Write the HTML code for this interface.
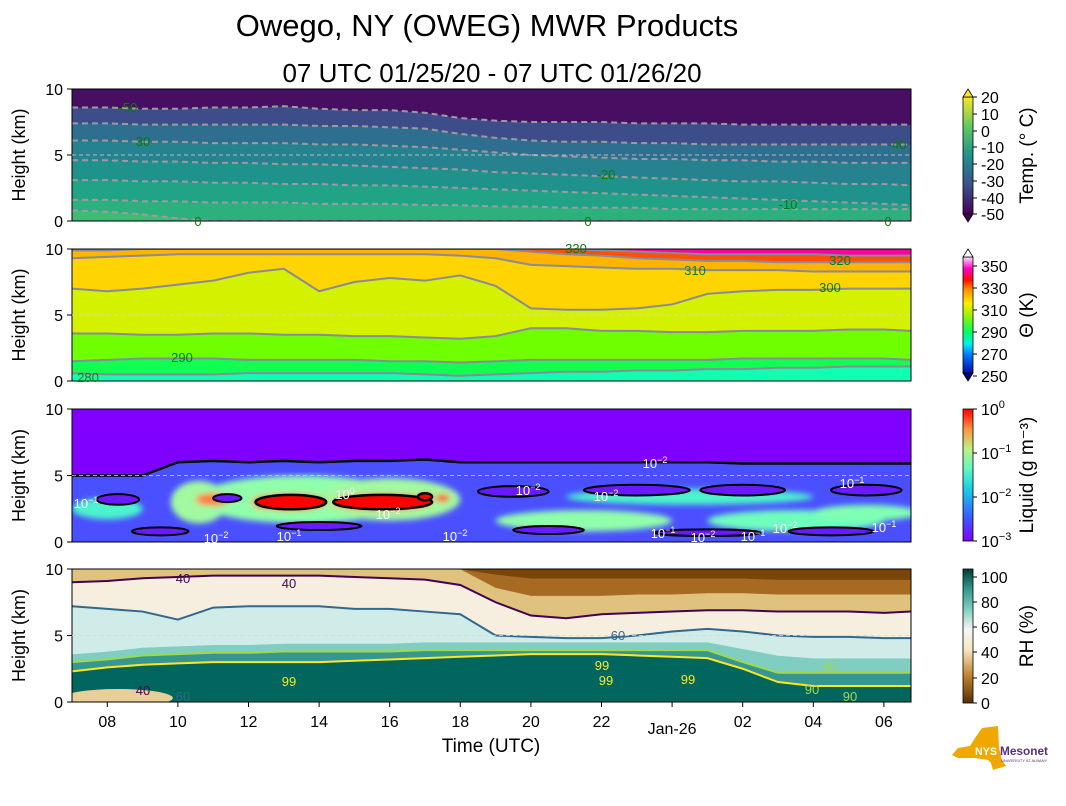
<!DOCTYPE html>
<html><head><meta charset="utf-8"><style>
body{margin:0;background:#fff;}
svg{display:block;font-family:"Liberation Sans","DejaVu Sans",sans-serif;}
</style></head><body>
<svg id="c" width="1066" height="806" viewBox="0 0 1066 806">
<defs>
<filter id="blur" x="-50%" y="-50%" width="200%" height="200%"><feGaussianBlur stdDeviation="3"/></filter>
<linearGradient id="gTemp" x1="0" y1="1" x2="0" y2="0">
<stop offset="0" stop-color="#440154"/><stop offset="0.25" stop-color="#3b528b"/><stop offset="0.5" stop-color="#21918c"/><stop offset="0.75" stop-color="#5ec962"/><stop offset="1" stop-color="#fde725"/></linearGradient>
<linearGradient id="gTheta" x1="0" y1="1" x2="0" y2="0">
<stop offset="0" stop-color="#0010a0"/><stop offset="0.15" stop-color="#0070ff"/><stop offset="0.25" stop-color="#00f0f0"/><stop offset="0.35" stop-color="#00ff60"/><stop offset="0.5" stop-color="#a0f000"/><stop offset="0.6" stop-color="#ffee00"/><stop offset="0.72" stop-color="#ff9000"/><stop offset="0.8" stop-color="#ff1000"/><stop offset="0.9" stop-color="#ff00c0"/><stop offset="1" stop-color="#ffe0ff"/></linearGradient>
<linearGradient id="gLiq" x1="0" y1="1" x2="0" y2="0">
<stop offset="0" stop-color="#7f00ff"/><stop offset="0.2" stop-color="#3366ff"/><stop offset="0.4" stop-color="#1ad0e8"/><stop offset="0.55" stop-color="#66f8c0"/><stop offset="0.7" stop-color="#c0f080"/><stop offset="0.85" stop-color="#ff9040"/><stop offset="1" stop-color="#ff0000"/></linearGradient>
<linearGradient id="gRH" x1="0" y1="1" x2="0" y2="0">
<stop offset="0" stop-color="#543005"/><stop offset="0.2" stop-color="#bf812d"/><stop offset="0.4" stop-color="#f6e8c3"/><stop offset="0.55" stop-color="#f5f5f5"/><stop offset="0.7" stop-color="#80cdc1"/><stop offset="0.85" stop-color="#35978f"/><stop offset="1" stop-color="#003c30"/></linearGradient>
</defs>
<g id="root"></g>
</svg>
<script>
// ===== data =====
const hours = [7,8,9,10,11,12,13,14,15,16,17,18,19,20,21,22,23,24,25,26,27,28,29,30,31];
const xTickHours = [8,10,12,14,16,18,20,22,24,26,28,30];
const xTickLabels = ["08","10","12","14","16","18","20","22","Jan-26","02","04","06"];
const yTicks = [0,5,10];

const tempC0 = [0.8,0.7,0.5,0.2,0,0,0,0,0,0,0,0,0,0,0,0,0,0,0,0,0,0,0,0,0];
const tempC1 = [1.6,1.6,1.5,1.5,1.4,1.4,1.4,1.3,1.3,1.3,1.2,1.2,1.1,1.1,1.0,1.0,1.0,0.9,0.9,0.9,0.9,0.9,0.9,0.9,0.9];
const tempC2 = [3.1,3.1,3.0,3.0,2.9,2.9,2.8,2.8,2.7,2.7,2.6,2.5,2.4,2.3,2.2,2.1,2.0,1.9,1.8,1.7,1.6,1.5,1.4,1.3,1.2];
const tempC3 = [4.6,4.6,4.5,4.5,4.4,4.4,4.3,4.3,4.2,4.1,4.0,3.9,3.7,3.6,3.5,3.4,3.3,3.2,3.1,3.0,3.0,2.9,2.8,2.8,2.7];
const tempC4 = [6.1,6.1,6.0,6.0,5.9,5.9,5.9,5.8,5.8,5.7,5.6,5.4,5.2,5.0,4.9,4.8,4.7,4.7,4.6,4.6,4.5,4.5,4.4,4.4,4.4];
const tempC5 = [7.4,7.4,7.3,7.3,7.3,7.3,7.3,7.2,7.2,7.1,7.0,6.6,6.3,6.1,6.0,6.0,5.9,5.9,5.8,5.8,5.8,5.8,5.8,5.8,5.8];
const tempC6 = [8.6,8.6,8.5,8.5,8.6,8.6,8.7,8.5,8.4,8.4,8.2,7.8,7.6,7.5,7.5,7.5,7.4,7.4,7.4,7.3,7.3,7.3,7.3,7.3,7.3];
const tempFills = ["#3fbc73","#2cb17e","#21a386","#1f938b","#26828e","#2e6e8e","#3d4d8a","#470e61"];

const thC280 = [0.6,0.5,0.5,0.5,0.5,0.6,0.6,0.6,0.6,0.6,0.5,0.4,0.5,0.6,0.7,0.7,0.8,0.8,0.9,0.9,1.0,1.0,1.1,1.1,1.1];
const thC290 = [1.5,1.6,1.7,1.7,1.7,1.6,1.6,1.6,1.6,1.5,1.5,1.4,1.5,1.6,1.6,1.6,1.6,1.6,1.6,1.7,1.7,1.7,1.7,1.7,1.6];
const thC295 = [3.6,3.6,3.5,3.5,3.6,3.6,3.5,3.5,3.4,3.4,3.3,3.2,3.4,4.0,4.0,3.8,3.8,3.7,3.7,3.8,3.8,3.8,3.9,3.9,3.8];
const thC300 = [7.0,6.8,7.0,7.3,7.6,8.2,8.5,6.8,7.5,7.8,7.6,8.0,7.2,5.5,5.4,5.4,5.5,5.8,6.6,6.8,6.9,6.9,7.0,7.0,7.0];
const thC310 = [9.3,9.4,9.5,9.6,9.6,9.6,9.6,9.6,9.6,9.6,9.6,9.5,9.3,8.8,8.7,8.6,8.5,8.5,8.4,8.4,8.4,8.3,8.3,8.3,8.3];
const thC320 = [9.9,9.9,10,10,10,10,10,10,10,10,10,10,10,9.8,9.6,9.5,9.3,9.2,9.1,9.1,9.0,9.0,9.0,9.0,9.0];
const thC330 = [10.5,10.5,10.5,10.5,10.5,10.5,10.5,10.5,10.5,10.5,10.5,10.5,10.4,10.2,10.0,9.9,9.8,9.7,9.6,9.6,9.6,9.6,9.5,9.5,9.5];
const thFills = ["#10ffb0","#10ff50","#70ff00","#d4f200","#ffd400","#ffb400","#ff5000","#ff00a0"];

const rhC99 = [2.3,2.6,2.8,2.9,3.0,3.0,3.0,3.0,3.1,3.2,3.3,3.4,3.5,3.6,3.6,3.6,3.5,3.4,3.3,2.5,1.5,1.2,1.2,1.2,1.2];
const rhC90 = [3.0,3.2,3.5,3.6,3.7,3.7,3.8,3.8,3.8,3.8,3.9,3.9,3.9,3.9,3.9,3.9,3.9,3.9,3.9,3.0,2.2,2.2,2.2,2.2,2.2];
const rhC80 = [3.6,3.8,4.1,4.2,4.3,4.3,4.4,4.4,4.4,4.4,4.5,4.5,4.5,4.5,4.5,4.5,4.5,4.5,4.5,4.0,3.5,3.3,3.3,3.3,3.3];
const rhC60 = [7.2,7.0,6.8,6.2,7.1,7.2,7.2,7.2,7.0,7.0,6.8,6.6,5.0,4.9,4.8,4.8,5.0,5.3,5.5,5.3,5.0,4.9,4.9,4.8,4.8];
const rhC40 = [9.0,9.1,9.3,9.4,9.5,9.5,9.5,9.5,9.4,9.3,9.2,8.8,7.5,6.5,6.3,6.6,6.7,6.8,6.9,6.9,6.8,6.8,6.8,6.7,6.8];
const rhC30 = [10.5,10.5,10.5,10.5,10.5,10.5,10.5,10.5,10.5,10.4,10.3,10.0,8.6,8.0,8.0,8.0,8.1,8.1,8.2,8.2,8.1,8.1,8.1,8.1,8.1];
const rhC20 = [11,11,11,11,11,11,11,11,11,11,11,11,9.6,9.3,9.3,9.3,9.3,9.3,9.3,9.3,9.2,9.2,9.2,9.2,9.2];
const rhFills = ["#01665e","#35978f","#80cdc1","#d0ece8","#f6efe0","#dfc27d","#a66a23","#7a4508"];

const liqTop = [5.0,5.0,5.0,6.0,6.1,6.0,6.1,6.0,6.1,6.1,6.2,6.0,6.0,6.0,6.0,6.0,6.0,6.0,6.0,5.9,5.9,5.9,5.9,5.9,5.9];
const blobHour = [8.0,10.6,13.5,16.0,21.5,24.5,27.5,29.5,11.0,12.5,13.2,15.8,17.0,17.5];
const blobZ    = [2.5,3.0,3.2,3.2,1.6,3.4,1.6,2.2,3.2,3.0,3.0,3.0,3.4,3.3];
const blobHW   = [1.0,0.8,3.0,2.0,2.5,3.5,2.5,1.5,0.5,0.4,1.0,1.4,0.2,0.2];
const blobHD   = [0.8,1.6,1.8,1.6,0.8,0.6,0.8,0.6,0.5,0.5,0.6,0.6,0.3,0.3];
const blobLog  = [-1.8,-1.3,-1.4,-1.3,-1.4,-1.8,-1.6,-1.5,-0.5,-0.5,0,0,0,-0.3];
// purple "holes" (below 10^-2) inside the cloud layer, outlined black
const holeHour = [8.3,11.4,19.5,23.0,26.0,29.5,9.5,14.0,20.5,25.0,28.5];
const holeZ    = [3.2,3.3,3.8,3.9,3.9,3.9,0.8,1.2,0.9,0.7,0.8];
const holeHW   = [0.6,0.4,1.0,1.5,1.2,1.0,0.8,1.2,1.0,1.5,1.2];
const holeHD   = [0.4,0.3,0.4,0.4,0.4,0.4,0.3,0.3,0.3,0.25,0.3];

// ===== helpers =====
const NS="http://www.w3.org/2000/svg";
const root=document.getElementById('root');
function mk(tag,attrs,parent){const e=document.createElementNS(NS,tag);for(const k in attrs)e.setAttribute(k,attrs[k]);(parent||root).appendChild(e);return e;}
const X0=72,X1=911;
function xs(h){return 107.3+(h-8)*35.3;}
const panels=[{top:89,bot:221},{top:249,bot:381},{top:409,bot:542},{top:569,bot:702}];
function ys(p,km){const P=panels[p];return P.bot-(km/10)*(P.bot-P.top);}
function clampKm(v){return Math.max(0,Math.min(10,v));}
function curvePts(p,arr){return hours.map((h,i)=>[Math.max(X0,Math.min(X1,xs(h))),ys(p,clampKm(arr[i]))]);}
function fillBands(p,curves,fills,g){
  const n=curves.length;
  for(let k=0;k<=n;k++){
    const lower=k===0?hours.map(()=>0):curves[k-1];
    const upper=k===n?hours.map(()=>10):curves[k];
    const lp=curvePts(p,lower),up=curvePts(p,upper).reverse();
    const d="M"+lp.map(q=>q.join(",")).join("L")+"L"+up.map(q=>q.join(",")).join("L")+"Z";
    const e=mk('path',{d:d,fill:fills[k],stroke:fills[k],'stroke-width':0.5},g);
    
    
  }
}
function line(p,arr,color,w,dash,g,name){
  const pts=curvePts(p,arr);
  const e=mk('path',{d:"M"+pts.map(q=>q.join(",")).join("L"),fill:"none",stroke:color,'stroke-width':w,'stroke-dasharray':dash||"none"},g);
  
  
}
function text(x,y,s,attrs,name){const e=mk('text',Object.assign({x:x,y:y},attrs));e.textContent=s;
  
  return e;}
function clipFor(p){const cp=mk('clipPath',{id:'cp'+p},document.querySelector('defs'));mk('rect',{x:X0,y:panels[p].top,width:X1-X0,height:panels[p].bot-panels[p].top},cp);return 'url(#cp'+p+')';}
function rainbow(l){const x=Math.max(0,Math.min(1,(l+3)/3));const r=Math.min(1,Math.abs(2*x-0.5)),g=Math.sin(Math.PI*x),b=Math.cos(Math.PI*x/2);return `rgb(${Math.round(r*255)},${Math.round(g*255)},${Math.round(b*255)})`;}

// ===== panel 1: temperature =====
let g=mk('g',{'clip-path':clipFor(0)});


const tC=[tempC0,tempC1,tempC2,tempC3,tempC4,tempC5,tempC6];
fillBands(0,tC,tempFills,g);
tC.forEach(c=>line(0,c,"#a09aa0",2,"6,4",g,'temp-contour'));
// ===== panel 2: theta =====
g=mk('g',{'clip-path':clipFor(1)});


const thC=[thC280,thC290,thC295,thC300,thC310,thC320,thC330];
fillBands(1,thC,thFills,g);
thC.forEach(c=>line(1,c,"#8a8a9a",2,null,g,'theta-contour'));
// ===== panel 3: liquid =====
g=mk('g',{'clip-path':clipFor(2)});


let bg=mk('rect',{x:X0,y:panels[2].top,width:X1-X0,height:133,fill:"#7f00ff"},g);


fillBands(2,[liqTop],["#4a50ff","#7f00ff"],g);
const bl=mk('g',{filter:'url(#blur)'},g);
blobHour.forEach((h,i)=>{
  const e=mk('ellipse',{cx:xs(h),cy:ys(2,blobZ[i]),rx:blobHW[i]*35.3,ry:blobHD[i]*13.3,fill:rainbow(blobLog[i])},bl);
  
  
});
holeHour.forEach((h,i)=>{
  const e=mk('ellipse',{cx:xs(h),cy:ys(2,holeZ[i]),rx:holeHW[i]*35.3,ry:holeHD[i]*13.3,fill:"#6a1aff",stroke:"#000",'stroke-width':2},g);
  
  
});
blobHour.forEach((h,i)=>{ if(blobLog[i]>=0){
  const e=mk('ellipse',{cx:xs(h),cy:ys(2,blobZ[i]),rx:blobHW[i]*35.3,ry:blobHD[i]*13.3*0.9,fill:"#ff0000",stroke:"#000",'stroke-width':2.5},g);
  
  }});
line(2,liqTop,"#000",2.5,null,g,'liquid-contour-1e-2');
// ===== panel 4: RH =====
g=mk('g',{'clip-path':clipFor(3)});


const rhC=[rhC99,rhC90,rhC80,rhC60,rhC40,rhC30,rhC20];
fillBands(3,rhC,rhFills,g);
let dry=mk('ellipse',{cx:xs(8.3),cy:ys(3,0.3),rx:55,ry:9,fill:"#e8cf98"},g);


line(3,rhC99,"#fde725",2,null,g,'rh-contour-99');
line(3,rhC90,"#9fd94a",2,null,g,'rh-contour-90');
line(3,rhC60,"#31688e",2,null,g,'rh-contour-60');
line(3,rhC40,"#440154",2,null,g,'rh-contour-40');

// ===== axes =====
panels.forEach((P,p)=>{
  const fr=mk('rect',{x:X0,y:P.top,width:X1-X0,height:P.bot-P.top,fill:"none",stroke:"#000",'stroke-width':1});
  
  
  const gl=mk('line',{x1:X0,x2:X1,y1:ys(p,5),y2:ys(p,5),stroke:"#d8d8d8",'stroke-width':0.8,'stroke-dasharray':"4,3"});
  
  
  yTicks.forEach(v=>{
    const t=mk('line',{x1:X0-5,x2:X0,y1:ys(p,v),y2:ys(p,v),stroke:"#000"});
    
    
    text(X0-9,ys(p,v)+6,String(v),{'font-size':16,'text-anchor':'end'},'y-tick-label');
  });
  text(25,(P.top+P.bot)/2,"Height (km)",{'font-size':18,'text-anchor':'middle',transform:`rotate(-90 25 ${(P.top+P.bot)/2})`},'y-axis-title');
});
xTickHours.forEach((h,i)=>{
  const t=mk('line',{x1:xs(h),x2:xs(h),y1:702,y2:707,stroke:"#000"});
  
  
  text(xs(h),i===8?734:727,xTickLabels[i],{'font-size':16,'text-anchor':'middle'},'x-tick-label');
});
text(491,752,"Time (UTC)",{'font-size':19,'text-anchor':'middle'},'x-axis-title');
text(487,36,"Owego, NY (OWEG) MWR Products",{'font-size':31,'text-anchor':'middle'},'chart-title');
text(492,82,"07 UTC 01/25/20 - 07 UTC 01/26/20",{'font-size':26,'text-anchor':'middle'},'chart-subtitle');

// contour labels
[[128,112,"-50","#0a7a0a"],[143,146,"30","#0a7a0a"],[606,179,"-20","#0a7a0a"],[788,209,"-10","#0a7a0a"],[897,149,"-40","#0a7a0a"],[198,226,"0","#0a7a0a"],[588,226,"0","#0a7a0a"],[888,226,"0","#0a7a0a"],
 [182,362,"290","#0a7a0a"],[88,382,"280","#0a7a0a"],[695,275,"310","#0a7a0a"],[840,265,"320","#0a7a0a"],[830,292,"300","#0a7a0a"],[576,253,"330","#0a7a0a"],
 [183,583,"40","#440154"],[289,588,"40","#440154"],[618,640,"60","#31688e"],[602,670,"99","#fde725"],[688,684,"99","#fde725"],[606,685,"99","#fde725"],[289,686,"99","#fde725"],[830,671,"90","#9fd94a"],[812,694,"90","#9fd94a"],[850,701,"90","#9fd94a"],[143,695,"40","#440154"],[183,701,"60","#31688e"]
].forEach(a=>text(a[0],a[1],a[2],{'font-size':13,fill:a[3],'text-anchor':'middle'},'contour-label'));
[[655,468,"10","−2"],[86,508,"10","−1"],[606,501,"10","−2"],[852,488,"10","−1"],[528,495,"10","−2"],[388,519,"10","−2"],[345,499,"10","0"],[216,543,"10","−2"],[289,541,"10","−1"],[455,541,"10","−2"],[663,538,"10","−1"],[753,541,"10","−1"],[785,533,"10","−2"],[884,532,"10","−1"],[703,542,"10","−2"]].forEach(a=>{
  const t=text(a[0],a[1],a[2],{'font-size':13,fill:"#fff",'text-anchor':'middle'},'liquid-contour-label');
  const s=mk('tspan',{'dy':-5,'font-size':9},t);s.textContent=a[3];
});

// ===== colorbars =====
const cbX=963,cbW=10;
function colorbar(top,bot,grad,ticks,labelsArr,title,name,tri){
  const r=mk('rect',{x:cbX,y:top,width:cbW,height:bot-top,fill:`url(#${grad})`,stroke:"#000",'stroke-width':0.8});
  
  
  if(tri){
    const a=mk('path',{d:`M${cbX},${top}L${cbX+cbW/2},${top-8}L${cbX+cbW},${top}Z`,fill:tri[0],stroke:"#000",'stroke-width':0.8});
    
    const b=mk('path',{d:`M${cbX},${bot}L${cbX+cbW/2},${bot+8}L${cbX+cbW},${bot}Z`,fill:tri[1],stroke:"#000",'stroke-width':0.8});
    
  }
  ticks.forEach((y,i)=>{
    const t=mk('line',{x1:cbX+cbW,x2:cbX+cbW+4,y1:y,y2:y,stroke:"#000"});
    
    const lb=labelsArr[i];
    const tx=text(cbX+cbW+8,y+6,lb[0],{'font-size':16},'colorbar-tick-label');
    if(lb[1]){const s=mk('tspan',{dy:-7,'font-size':11},tx);s.textContent=lb[1];}
  });
  const cy=(top+bot)/2;
  text(1033,cy,title,{'font-size':19,'text-anchor':'middle',transform:`rotate(-90 1033 ${cy})`},name+'-title');
}
colorbar(97,214,"gTemp",[97,114,131,147,164,181,198,214],[["20"],["10"],["0"],["-10"],["-20"],["-30"],["-40"],["-50"]],"Temp. (° C)","temp-colorbar",["#fde725","#440154"]);
colorbar(257,373,"gTheta",[266,288,310,332,354,376],[["350"],["330"],["310"],["290"],["270"],["250"]],"Θ (K)","theta-colorbar",["#ffffff","#000080"]);
colorbar(409,541,"gLiq",[409,453,497,541],[["10","0"],["10","−1"],["10","−2"],["10","−3"]],"Liquid (g m⁻³)","liquid-colorbar",null);
colorbar(569,703,"gRH",[577,602,627,652,678,703],[["100"],["80"],["60"],["40"],["20"],["0"]],"RH (%)","rh-colorbar",null);

// ===== logo =====
const lg=mk('g',{});


mk('path',{d:"M982,728 L998,726 L999,748 L1002,760 L1006,766 L993,770 L991,763 L988,760 L975,758 L958,758 L952,755 L958,748 L970,746 L975,738 Z",fill:"#f0a800"},lg);
const t1=mk('text',{x:975,y:755,'font-size':11,'font-weight':'bold',fill:"#fff",textLength:22,lengthAdjust:"spacingAndGlyphs"},lg);t1.textContent="NYS";
const t2=mk('text',{x:1000,y:755,'font-size':12,'font-weight':'bold',fill:"#5a2d82",textLength:48,lengthAdjust:"spacingAndGlyphs"},lg);t2.textContent="Mesonet";
const t3=mk('text',{x:1001,y:762,'font-size':4,fill:"#5a2d82"},lg);t3.textContent="UNIVERSITY AT ALBANY";
</script>
</body></html>
